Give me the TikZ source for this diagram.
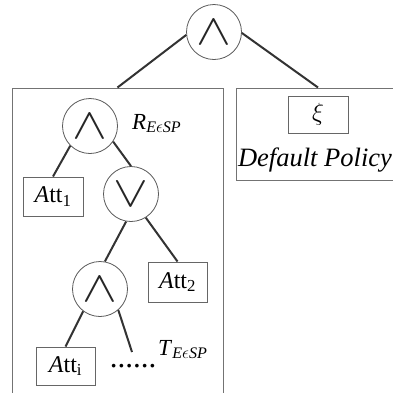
\documentclass[tikz,border=0pt]{standalone}
\usepackage{fontspec}
\setmainfont{Liberation Serif}
\usetikzlibrary{calc}

% subscript used by the R and T labels
\newcommand\espsub{\textit{E}$\epsilon$\textit{SP}}
% big logical connectives drawn inside the gate circles
\newcommand\bigand{\scalebox{2.1}[1.75]{\fontsize{24.88}{24.88}\selectfont$\wedge$}}
\newcommand\bigor{\scalebox{2.1}[1.75]{\fontsize{24.88}{24.88}\selectfont$\vee$}}

\tikzset{
  gate/.style={circle, draw=black!65, line width=0.8pt, minimum size=55pt,
               inner sep=0pt, text=black!85},
  leaf/.style={draw=black!60, line width=1pt, inner sep=0pt,
               font=\fontsize{24}{24}\selectfont, text=black},
  panel/.style={draw=black!55, line width=1pt, inner sep=0pt},
  edge/.style={draw=black!80, line width=2pt},
  lbl/.style={inner sep=0pt, font=\fontsize{23}{23}\selectfont, text=black},
}

\begin{document}
\begin{tikzpicture}[x=1pt, y=-1pt]
  \useasboundingbox (0,0) rectangle (393,392);
  \clip (0,0) rectangle (393,392);

  % two sub-policy panels
  \node[panel, minimum width=211pt, minimum height=312pt] (lpanel) at (117.5,244) {};
  \node[panel, minimum width=164pt, minimum height=92pt] (rpanel) at (318,134) {};

  % root gate
  \node[gate] (root) at (214,32) {\bigand};

  % default policy panel content
  \node[leaf, minimum width=60pt, minimum height=37pt] (xi) at (318,114.5) {\fontsize{26}{26}\selectfont$\xi$};
  \node[lbl, anchor=base, font=\fontsize{26.5}{26.5}\selectfont] (dp) at (315,166) {\textit{Default Policy}};

  % rule tree
  \node[gate] (and1) at (90,126) {\bigand};
  \node[lbl, anchor=base west] (rlab) at (132,129) {\textit{R}\textsubscript{\espsub}};
  \node[leaf, minimum width=60pt, minimum height=39pt] (att1) at (53,196.5) {\textit{A}tt\textsubscript{1}};
  \node[gate] (or1) at (131,194) {\bigor};
  \node[gate] (and2) at (100,289) {\bigand};
  \node[leaf, minimum width=59pt, minimum height=40pt] (att2) at (177.5,282) {\textit{A}tt\textsubscript{2}};
  \node[leaf, minimum width=59pt, minimum height=38pt] (atti) at (65.5,366) {\textit{A}tt\textsubscript{i}};
  \node[lbl, anchor=base, font=\fontsize{31}{31}\selectfont] (dots) at (133,367) {......};
  \node[lbl, anchor=base west] (tlab) at (158,355) {\textit{T}\textsubscript{\espsub}};
  \coordinate (dotsend) at (132,352);

  % connectors
  \draw[edge] (root.186) -- (lpanel.north);
  \draw[edge] (root.-2) -- (rpanel.north);
  \draw[edge] (and1.225) -- (att1.north);
  \draw[edge] (and1.-34) -- (or1.north);
  \draw[edge] (or1.260) -- (and2.80);
  \draw[edge] (or1.-58) -- (att2.north);
  \draw[edge] (and2.233) -- (atti.north);
  \draw[edge] (and2.-49) -- (dotsend);
\end{tikzpicture}
\end{document}
